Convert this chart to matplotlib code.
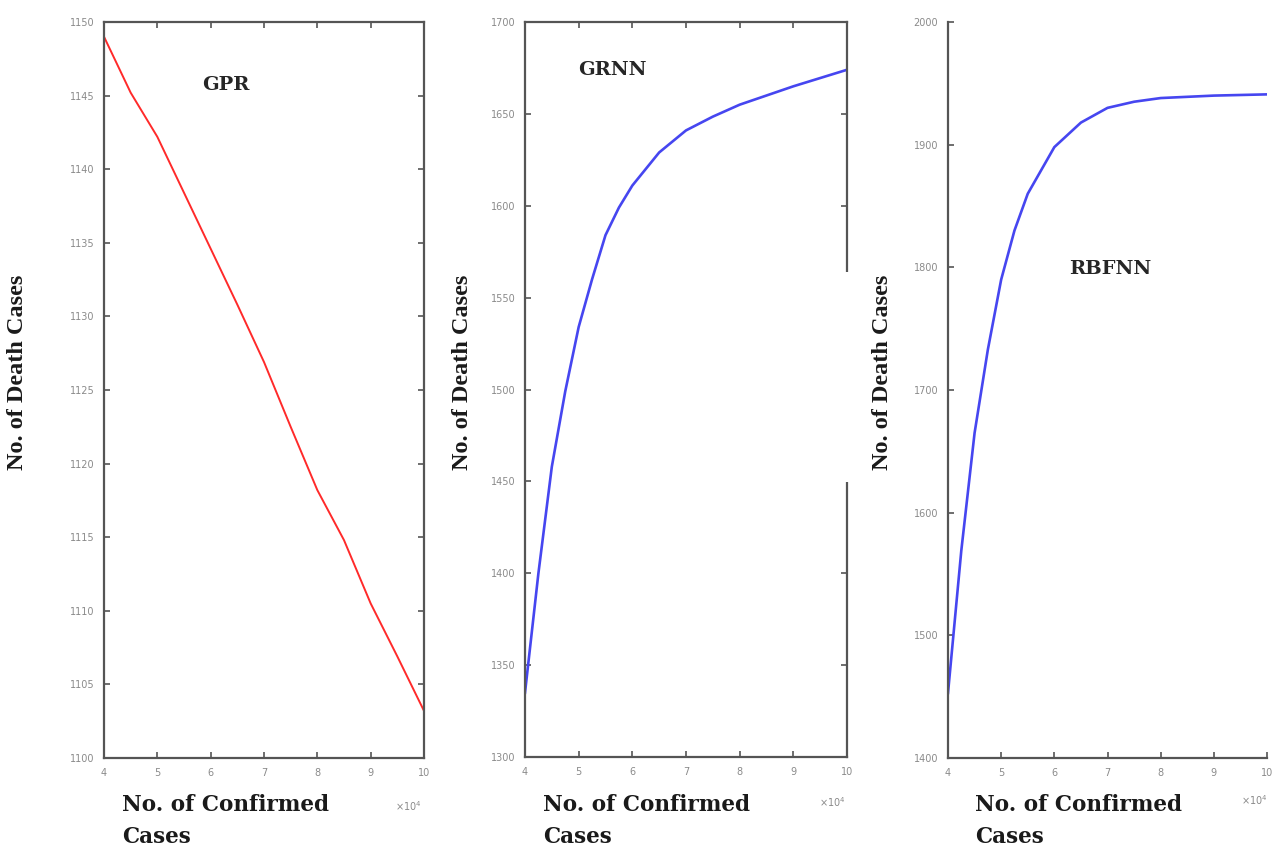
import matplotlib
matplotlib.use("Agg")
import matplotlib.pyplot as plt
from matplotlib.patches import Rectangle

# --- data (x in units of 10^4 confirmed cases) ---
gpr_x = [4.0, 4.5, 5.0, 5.5, 6.0, 6.5, 7.0, 7.5, 8.0, 8.5, 9.0, 9.5, 10.0]
gpr_y = [1149.0, 1145.2, 1142.2, 1138.4, 1134.6, 1130.8, 1126.9, 1122.5,
         1118.2, 1114.8, 1110.5, 1106.9, 1103.2]

grnn_x = [4.0, 4.25, 4.5, 4.75, 5.0, 5.25, 5.5, 5.75, 6.0, 6.5, 7.0, 7.5,
          8.0, 9.0, 10.0]
grnn_y = [1335, 1400, 1458, 1499, 1534, 1560, 1584, 1599, 1611, 1629, 1641,
          1648.5, 1655, 1665, 1674]

rbfnn_x = [4.0, 4.25, 4.5, 4.75, 5.0, 5.25, 5.5, 6.0, 6.5, 7.0, 7.5, 8.0,
           9.0, 10.0]
rbfnn_y = [1453, 1569, 1665, 1733, 1790, 1830, 1860, 1898, 1918, 1930, 1935,
           1938, 1940, 1941]

x_ticks = [4, 5, 6, 7, 8, 9, 10]
gpr_ticks = list(range(1100, 1151, 5))
grnn_ticks = list(range(1300, 1701, 50))
rbfnn_ticks = list(range(1400, 2001, 100))

# --- styling ---
label_font = "Liberation Serif"
wide_font = "DejaVu Serif"
spine_col = "#555555"
tick_col = "#8a8a8a"

fig = plt.figure(figsize=(12.79, 8.48), dpi=100)

W, H = 1279.0, 848.0
def box(x0, y0, x1, y1):
    # pixel box -> figure fraction [left, bottom, width, height]
    return [x0 / W, 1 - y1 / H, (x1 - x0) / W, (y1 - y0) / H]

panels = [
    dict(rect=box(104, 22, 424, 758), x=gpr_x, y=gpr_y, yt=gpr_ticks,
         col="#ff2a2a", lw=1.4, name="GPR", name_xy=(0.38, 0.915), full=True,
         ylab_x=18, xlab_x=122, off=(422, 806)),
    dict(rect=box(525, 22, 847, 757), x=grnn_x, y=grnn_y, yt=grnn_ticks,
         col="#4646f0", lw=1.9, name="GRNN", name_xy=(0.27, 0.935), full=True,
         ylab_x=462, xlab_x=543, off=(846, 802)),
    dict(rect=box(948, 22, 1267, 758), x=rbfnn_x, y=rbfnn_y, yt=rbfnn_ticks,
         col="#4646f0", lw=1.9, name="RBFNN", name_xy=(0.51, 0.665), full=False,
         ylab_x=882, xlab_x=975, off=(1268, 800)),
]

for p in panels:
    ax = fig.add_axes(p["rect"])
    ax.plot(p["x"], p["y"], color=p["col"], linewidth=p["lw"])
    ax.set_xlim(4, 10)
    ax.set_ylim(p["yt"][0], p["yt"][-1])
    ax.set_xticks(x_ticks)
    ax.set_yticks(p["yt"])
    ax.tick_params(direction="in", length=4, width=1.2, color=spine_col,
                   labelsize=7, labelcolor=tick_col, pad=7,
                   top=p["full"], right=p["full"])
    for s in ax.spines.values():
        s.set_color(spine_col)
        s.set_linewidth(1.6)
    if not p["full"]:
        ax.spines["top"].set_visible(False)
        ax.spines["right"].set_visible(False)

    ax.text(p["name_xy"][0], p["name_xy"][1], p["name"], transform=ax.transAxes,
            family=wide_font, fontweight="bold", fontsize=14, color="#262626",
            ha="center", va="center")

    # axis labels placed to follow the reference layout
    fig.text(p["ylab_x"] / W, 1 - 372 / H, "No. of Death Cases", rotation=90,
             family=label_font, fontweight="bold", fontsize=17.5, color="#1a1a1a",
             ha="center", va="center")
    fig.text(p["xlab_x"] / W, 1 - 821 / H, "No. of Confirmed\nCases",
             family=wide_font, fontweight="bold", fontsize=15.5, color="#1a1a1a",
             ha="left", va="center", linespacing=1.6)
    fig.text(p["off"][0] / W, 1 - p["off"][1] / H, r"$\times10^{4}$", fontsize=7,
             color=tick_col, ha="right", va="center")

# white scratch over the middle panel's right frame, as in the scan
fig.patches.append(Rectangle((838 / W, 1 - 482 / H), 14 / W, 210 / H,
                             transform=fig.transFigure, facecolor="white",
                             edgecolor="none", zorder=5))

fig.savefig("out.png", dpi=100)
